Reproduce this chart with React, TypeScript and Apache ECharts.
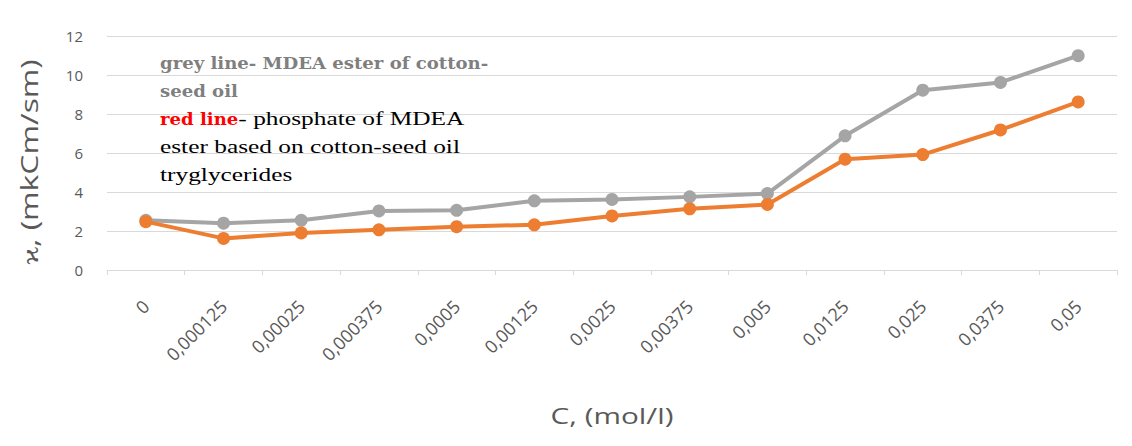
import React, { useEffect, useRef } from "react";
import * as echarts from "echarts";

const categories = ["0", "0,000125", "0,00025", "0,000375", "0,0005", "0,00125", "0,0025", "0,00375", "0,005", "0,0125", "0,025", "0,0375", "0,05"];
const greySeries = [2.55, 2.4, 2.55, 3.03, 3.06, 3.55, 3.62, 3.75, 3.92, 6.88, 9.22, 9.62, 10.99];
const orangeSeries = [2.48, 1.62, 1.9, 2.06, 2.22, 2.32, 2.77, 3.14, 3.36, 5.68, 5.92, 7.18, 8.62];
const yTitle = "ϰ, (mkCm/sm)";
const xTitle = "C, (mol/l)";
const noteGrey = ["grey line- MDEA ester of cotton-", "seed oil"];
const noteRedLabel = "red line";
const noteBlack = ["- phosphate of MDEA", "ester based on cotton-seed oil", "tryglycerides"];

const SERIF_BOLD = "DejaVu Serif";
const SERIF_REG = "Liberation Serif";

export default function App() {
  const ref = useRef<HTMLDivElement>(null);
  useEffect(() => {
    const chart = echarts.init(ref.current!, null, { renderer: "svg" });
    const ctx = document.createElement("canvas").getContext("2d")!;
    ctx.font = `bold 16px "${SERIF_BOLD}"`;
    const redW = ctx.measureText(noteRedLabel).width;
    ctx.font = `18px "${SERIF_REG}"`;
    const blackW = ctx.measureText(noteBlack[1]).width;
    const sxB = blackW > 0 ? 300 / blackW : 1.25;

    const noteX = 160;
    const noteY = 63;
    const lh = 28;
    const sx = 1.13;
    const noteEls: any[] = [];
    const addText = (text: string, x: number, y: number, bold: boolean, fill: string) => {
      noteEls.push({
        type: "text",
        x,
        y,
        scaleX: bold ? sx : sxB,
        z: 10,
        style: {
          text,
          fontFamily: bold ? SERIF_BOLD : SERIF_REG,
          fontSize: bold ? 16 : 18,
          fontWeight: bold ? "bold" : "normal",
          fill,
          verticalAlign: "middle",
        },
      });
    };
    addText(noteGrey[0], noteX, noteY, true, "#7f7f7f");
    addText(noteGrey[1], noteX, noteY + lh, true, "#7f7f7f");
    addText(noteRedLabel, noteX, noteY + 2 * lh, true, "#ff0000");
    addText(noteBlack[0], noteX + redW * sx, noteY + 2 * lh, false, "#000000");
    addText(noteBlack[1], noteX, noteY + 3 * lh, false, "#000000");
    addText(noteBlack[2], noteX, noteY + 4 * lh, false, "#000000");

    chart.setOption({
      animation: false,
      grid: { left: 107, right: 15, top: 36, bottom: 176 },
      xAxis: {
        type: "category",
        data: categories,
        boundaryGap: true,
        axisLine: { lineStyle: { color: "#d9d9d9", width: 1 } },
        axisTick: { show: true, length: 5, lineStyle: { color: "#d9d9d9" } },
        axisLabel: { rotate: 45, color: "#595959", fontSize: 18, fontFamily: "Open Sans", margin: 33, interval: 0 },
      },
      yAxis: {
        type: "value",
        min: 0,
        max: 12,
        interval: 2,
        axisLine: { show: false },
        axisTick: { show: false },
        splitLine: { lineStyle: { color: "#d9d9d9", width: 1 } },
        axisLabel: { color: "#595959", fontSize: 15, fontFamily: "Open Sans", margin: 24 },
      },
      series: [
        {
          type: "line",
          data: greySeries,
          symbol: "circle",
          symbolSize: 13,
          lineStyle: { color: "#a5a5a5", width: 4 },
          itemStyle: { color: "#a5a5a5" },
          z: 2,
        },
        {
          type: "line",
          data: orangeSeries,
          symbol: "circle",
          symbolSize: 13,
          lineStyle: { color: "#ed7d31", width: 4 },
          itemStyle: { color: "#ed7d31" },
          z: 3,
        },
      ],
      graphic: [
        ...noteEls,
        {
          type: "text",
          x: 29,
          y: 162,
          rotation: Math.PI / 2,
          scaleX: 1.33,
          z: 10,
          style: {
            text: yTitle,
            fontFamily: "Open Sans",
            fontSize: 24,
            fill: "#595959",
            align: "center",
            verticalAlign: "middle",
          },
        },
        {
          type: "text",
          x: 612,
          y: 416,
          scaleX: 1.35,
          z: 10,
          style: {
            text: xTitle,
            fontFamily: "Open Sans",
            fontSize: 22,
            fill: "#595959",
            align: "center",
            verticalAlign: "middle",
          },
        },
      ],
    });
    return () => chart.dispose();
  }, []);
  return <div ref={ref} style={{ position: "fixed", left: 0, top: 0, width: 1132, height: 446, background: "#fff" }} />;
}
